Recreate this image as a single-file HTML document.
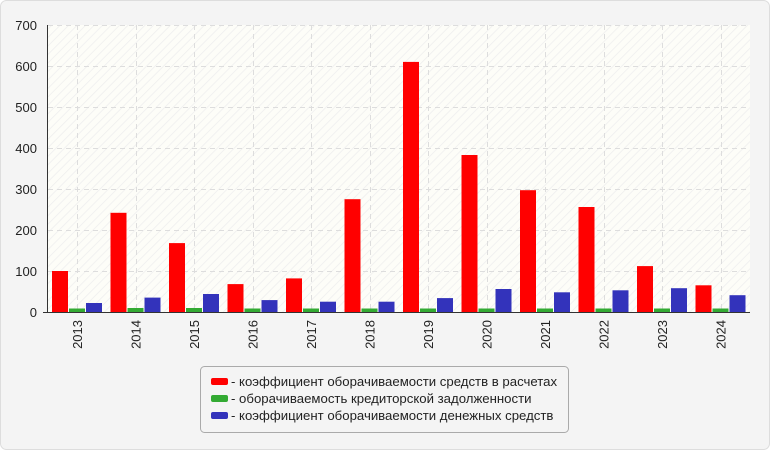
<!DOCTYPE html>
<html><head><meta charset="utf-8"><style>
body{margin:0;background:#fff}
svg{display:block;font-family:"Liberation Sans",sans-serif}
</style></head><body>
<svg width="770" height="450" xmlns="http://www.w3.org/2000/svg">
<defs><pattern id="h" width="6" height="6" patternUnits="userSpaceOnUse" patternTransform="rotate(45)"><rect width="6" height="6" fill="#fdfdf8"/><line x1="0" y1="0" x2="0" y2="6" stroke="#eeeeee" stroke-width="1.5"/></pattern></defs>
<rect x="0.5" y="0.5" width="769" height="449" rx="6" fill="#f4f4f4" stroke="#dddddd"/>
<rect x="48" y="25" width="702" height="287" fill="url(#h)"/>
<g stroke="#dddddd" stroke-dasharray="5,4" stroke-width="1">
<line x1="48" x2="750" y1="25.5" y2="25.5"/><line x1="48" x2="750" y1="66.5" y2="66.5"/><line x1="48" x2="750" y1="107.5" y2="107.5"/><line x1="48" x2="750" y1="148.5" y2="148.5"/><line x1="48" x2="750" y1="189.5" y2="189.5"/><line x1="48" x2="750" y1="230.5" y2="230.5"/><line x1="48" x2="750" y1="271.5" y2="271.5"/>
<line x1="77.5" x2="77.5" y1="25" y2="312"/><line x1="136.5" x2="136.5" y1="25" y2="312"/><line x1="194.5" x2="194.5" y1="25" y2="312"/><line x1="253.5" x2="253.5" y1="25" y2="312"/><line x1="311.5" x2="311.5" y1="25" y2="312"/><line x1="370.5" x2="370.5" y1="25" y2="312"/><line x1="428.5" x2="428.5" y1="25" y2="312"/><line x1="487.5" x2="487.5" y1="25" y2="312"/><line x1="545.5" x2="545.5" y1="25" y2="312"/><line x1="604.5" x2="604.5" y1="25" y2="312"/><line x1="662.5" x2="662.5" y1="25" y2="312"/><line x1="721.5" x2="721.5" y1="25" y2="312"/>
</g>
<g fill="#ff0000">
<rect x="52" y="271" width="16" height="41"/>
<rect x="110.5" y="212.8" width="16" height="99.2"/>
<rect x="169" y="243.1" width="16" height="68.9"/>
<rect x="227.5" y="284.1" width="16" height="27.9"/>
<rect x="286" y="278.4" width="16" height="33.6"/>
<rect x="344.5" y="199.2" width="16" height="112.8"/>
<rect x="403" y="61.9" width="16" height="250.1"/>
<rect x="461.5" y="155" width="16" height="157"/>
<rect x="520" y="190.2" width="16" height="121.8"/>
<rect x="578.5" y="207" width="16" height="105"/>
<rect x="637" y="266.1" width="16" height="45.9"/>
<rect x="695.5" y="285.3" width="16" height="26.7"/>
</g>
<g fill="#33aa33">
<rect x="69" y="308.5" width="16" height="3.5"/>
<rect x="127.5" y="308" width="16" height="4"/>
<rect x="186" y="308" width="16" height="4"/>
<rect x="244.5" y="308.5" width="16" height="3.5"/>
<rect x="303" y="308.5" width="16" height="3.5"/>
<rect x="361.5" y="308.5" width="16" height="3.5"/>
<rect x="420" y="308.5" width="16" height="3.5"/>
<rect x="478.5" y="308.5" width="16" height="3.5"/>
<rect x="537" y="308.5" width="16" height="3.5"/>
<rect x="595.5" y="308.5" width="16" height="3.5"/>
<rect x="654" y="308.5" width="16" height="3.5"/>
<rect x="712.5" y="308.5" width="16" height="3.5"/>
</g>
<g fill="#3333bb">
<rect x="86" y="303" width="16" height="9"/>
<rect x="144.5" y="297.6" width="16" height="14.4"/>
<rect x="203" y="294" width="16" height="18"/>
<rect x="261.5" y="300.1" width="16" height="11.9"/>
<rect x="320" y="301.7" width="16" height="10.3"/>
<rect x="378.5" y="301.7" width="16" height="10.3"/>
<rect x="437" y="298.1" width="16" height="13.9"/>
<rect x="495.5" y="289" width="16" height="23"/>
<rect x="554" y="292.3" width="16" height="19.7"/>
<rect x="612.5" y="290.3" width="16" height="21.7"/>
<rect x="671" y="288.2" width="16" height="23.8"/>
<rect x="729.5" y="295.2" width="16" height="16.8"/>
</g>
<line x1="47.5" x2="47.5" y1="25" y2="313" stroke="#333"/>
<line x1="43" x2="750" y1="312.5" y2="312.5" stroke="#333"/>
<g font-size="13" fill="#222" text-anchor="end">
<text x="37" y="30">700</text><text x="37" y="71">600</text><text x="37" y="112">500</text><text x="37" y="153">400</text><text x="37" y="194">300</text><text x="37" y="235">200</text><text x="37" y="276">100</text><text x="37" y="317">0</text>
</g>
<g font-size="13" fill="#222" text-anchor="end">
<text transform="translate(82,320) rotate(-90)">2013</text>
<text transform="translate(140.5,320) rotate(-90)">2014</text>
<text transform="translate(199,320) rotate(-90)">2015</text>
<text transform="translate(257.5,320) rotate(-90)">2016</text>
<text transform="translate(316,320) rotate(-90)">2017</text>
<text transform="translate(374.5,320) rotate(-90)">2018</text>
<text transform="translate(433,320) rotate(-90)">2019</text>
<text transform="translate(491.5,320) rotate(-90)">2020</text>
<text transform="translate(550,320) rotate(-90)">2021</text>
<text transform="translate(608.5,320) rotate(-90)">2022</text>
<text transform="translate(667,320) rotate(-90)">2023</text>
<text transform="translate(725.5,320) rotate(-90)">2024</text>
</g>
<rect x="200.5" y="366.5" width="368" height="66" rx="4" fill="#f4f4f4" stroke="#aaaaaa"/>
<rect x="211" y="378" width="17" height="7" rx="2" fill="#ff0000"/>
<rect x="211" y="395" width="17" height="7" rx="2" fill="#33aa33"/>
<rect x="211" y="412" width="17" height="7" rx="2" fill="#3333bb"/>
<g font-size="13.2" fill="#222">
<text x="231" y="386">- коэффициент оборачиваемости средств в расчетах</text>
<text x="231" y="403">- оборачиваемость кредиторской задолженности</text>
<text x="231" y="420">- коэффициент оборачиваемости денежных средств</text>
</g>
</svg>
</body></html>
